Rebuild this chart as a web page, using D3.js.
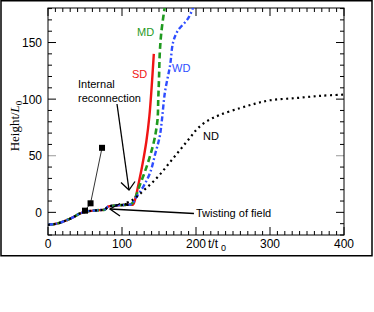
<!DOCTYPE html>
<html>
<head>
<meta charset="utf-8">
<script src="https://cdn.jsdelivr.net/npm/d3@7"></script>
<style>
  body { margin: 0; background: #fff; }
  svg { display: block; }
</style>
</head>
<body>
<div id="chart"></div>
<script>
// Shared early rise, all four runs sit on top of each other here
const basePoints = [[0, -11], [12, -10], [25, -7], [35, -4], [43, -1], [54, 1], [70, 2], [77, 2.5],
    [81, 5], [90, 6], [101, 6.5], [110, 6.8]];

const sdPoints = [[115, 7], [118, 12], [122, 24], [127, 40], [133, 63], [137, 85], [140, 110], [143, 140]];
const mdPoints = [[113, 7.5], [118, 13], [124, 24], [131, 36], [138, 50], [144, 65], [148, 82],
    [149, 100], [150, 118], [151, 140], [153, 158], [157, 178], [159, 186]];
const wdPoints = [[113, 7.5], [120, 14], [129, 23], [138, 35], [145, 52], [151, 67], [154, 82],
    [158, 106], [165, 130], [169, 150], [175, 160], [190, 172], [199, 186]];
const ndPoints = [[103, 7.5], [112, 10], [122, 15], [132, 21], [142, 27], [152, 34], [162, 42],
    [172, 50], [182, 58], [192, 66], [202, 74], [216, 81], [232, 86], [259, 92], [280, 96],
    [300, 99], [336, 101], [370, 103], [400, 104]];

const squarePoints = [[50, 1.5], [57.5, 8], [73, 57]];

const xTicks = [0, 100, 200, 300, 400];
const yTicks = [0, 50, 100, 150];

const W = 374, H = 312;
const plot = {left: 48, right: 344, top: 8, bottom: 235};

const svg = d3.select("#chart").append("svg")
    .attr("width", W).attr("height", H)
    .style("font-family", "'Liberation Sans', Arial, sans-serif");

// figure frame
svg.append("rect")
    .attr("x", 1).attr("y", 0.75)
    .attr("width", 371).attr("height", 255)
    .attr("fill", "none").attr("stroke", "#000").attr("stroke-width", 1.5);

const x = d3.scaleLinear().domain([0, 400]).range([plot.left, plot.right]);
const y = d3.scaleLinear().domain([-20, 180.5]).range([plot.bottom, plot.top]);

svg.append("defs").append("clipPath").attr("id", "clip")
    .append("rect")
    .attr("x", plot.left).attr("y", plot.top)
    .attr("width", plot.right - plot.left).attr("height", plot.bottom - plot.top);

// ticks on all four sides, pointing inward
const ticks = svg.append("g").attr("stroke", "#000").attr("stroke-width", 1);
d3.range(0, 401, 10).forEach((t) => {
    const len = t % 100 === 0 ? 8 : 4;
    ticks.append("line").attr("x1", x(t)).attr("x2", x(t))
        .attr("y1", plot.bottom).attr("y2", plot.bottom - len);
    ticks.append("line").attr("x1", x(t)).attr("x2", x(t))
        .attr("y1", plot.top).attr("y2", plot.top + len);
});
d3.range(-20, 181, 10).forEach((v) => {
    const major = v % 50 === 0;
    const len = major ? 8 : 4;
    const col = v === 50 ? "#999" : "#000";
    ticks.append("line").attr("x1", plot.left).attr("x2", plot.left + len)
        .attr("y1", y(v)).attr("y2", y(v)).attr("stroke", col);
    ticks.append("line").attr("x1", plot.right).attr("x2", plot.right - len)
        .attr("y1", y(v)).attr("y2", y(v)).attr("stroke", col);
});

svg.append("rect")
    .attr("x", plot.left).attr("y", plot.top)
    .attr("width", plot.right - plot.left).attr("height", plot.bottom - plot.top)
    .attr("fill", "none").attr("stroke", "#000").attr("stroke-width", 1);

svg.append("g").selectAll("text").data(xTicks).join("text")
    .attr("x", (d) => x(d)).attr("y", 247.5)
    .attr("text-anchor", "middle").attr("font-size", 12)
    .text((d) => d);

svg.append("g").selectAll("text").data(yTicks).join("text")
    .attr("x", 42).attr("y", (d) => y(d) + 4.5)
    .attr("text-anchor", "end").attr("font-size", 12)
    .text((d) => d);

const xLab = svg.append("text").attr("x", 208).attr("y", 247.5).attr("font-size", 12);
xLab.append("tspan").text("t/t");
xLab.append("tspan").attr("dx", 3).attr("dy", 3).attr("font-size", 9).text("0");

const yLab = svg.append("text")
    .attr("transform", "translate(19,126) rotate(-90)")
    .attr("text-anchor", "middle")
    .attr("font-family", "'Liberation Serif', 'Times New Roman', serif")
    .attr("font-size", 13);
yLab.append("tspan").text("Height/");
yLab.append("tspan").attr("font-style", "italic").text("L");
yLab.append("tspan").attr("dy", 3).attr("font-size", 9).text("0");

// curves
const line = d3.line()
    .x((d) => x(d[0])).y((d) => y(d[1]))
    .curve(d3.curveCatmullRom.alpha(0.5));

const series = [
    {pts: sdPoints, color: "#f01414", width: 2.4, dash: null},
    {pts: mdPoints, color: "#1f9a1f", width: 2.6, dash: "6 3.5"},
    {pts: wdPoints, color: "#2e4dff", width: 2.4, dash: "5 2.5 1.8 2.5"},
    {pts: ndPoints, color: "#000", width: 2.2, dash: "2 3.5"},
];

const curves = svg.append("g").attr("clip-path", "url(#clip)");
series.forEach((s) => {
    curves.append("path")
        .datum(basePoints.concat(s.pts))
        .attr("d", line)
        .attr("fill", "none")
        .attr("stroke", s.color)
        .attr("stroke-width", s.width)
        .attr("stroke-dasharray", s.dash);
});

// square markers
svg.append("path")
    .datum(squarePoints)
    .attr("d", d3.line().x((d) => x(d[0])).y((d) => y(d[1])))
    .attr("fill", "none").attr("stroke", "#000").attr("stroke-width", 0.8);
svg.append("g").selectAll("rect").data(squarePoints).join("rect")
    .attr("x", (d) => x(d[0]) - 3).attr("y", (d) => y(d[1]) - 3)
    .attr("width", 6).attr("height", 6).attr("fill", "#000");

// series labels
const labels = [
    {t: "MD", x: 137, y: 36, c: "#1f9a1f"},
    {t: "SD", x: 132, y: 77.5, c: "#f01414"},
    {t: "WD", x: 172, y: 72, c: "#2e4dff"},
    {t: "ND", x: 203, y: 140, c: "#000"},
];
svg.append("g").selectAll("text").data(labels).join("text")
    .attr("x", (d) => d.x).attr("y", (d) => d.y)
    .attr("font-size", 11).attr("fill", (d) => d.c)
    .text((d) => d.t);

// annotations
svg.append("text").attr("x", 78).attr("y", 88).attr("font-size", 11).text("Internal");
svg.append("text").attr("x", 78).attr("y", 101.5).attr("font-size", 11).text("reconnection");
svg.append("text").attr("x", 196).attr("y", 216.5).attr("font-size", 11).text("Twisting of field");

const arrows = svg.append("g").attr("stroke", "#000").attr("stroke-width", 1.3).attr("fill", "none");
arrows.append("line").attr("x1", 117).attr("y1", 104).attr("x2", 129).attr("y2", 190);
arrows.append("polyline").attr("points", "121,182.5 129,190 135,181.5");
arrows.append("line").attr("x1", 194).attr("y1", 213.5).attr("x2", 110).attr("y2", 209);
arrows.append("polyline").attr("points", "120,203.5 110,209 120,216");
</script>
</body>
</html>
